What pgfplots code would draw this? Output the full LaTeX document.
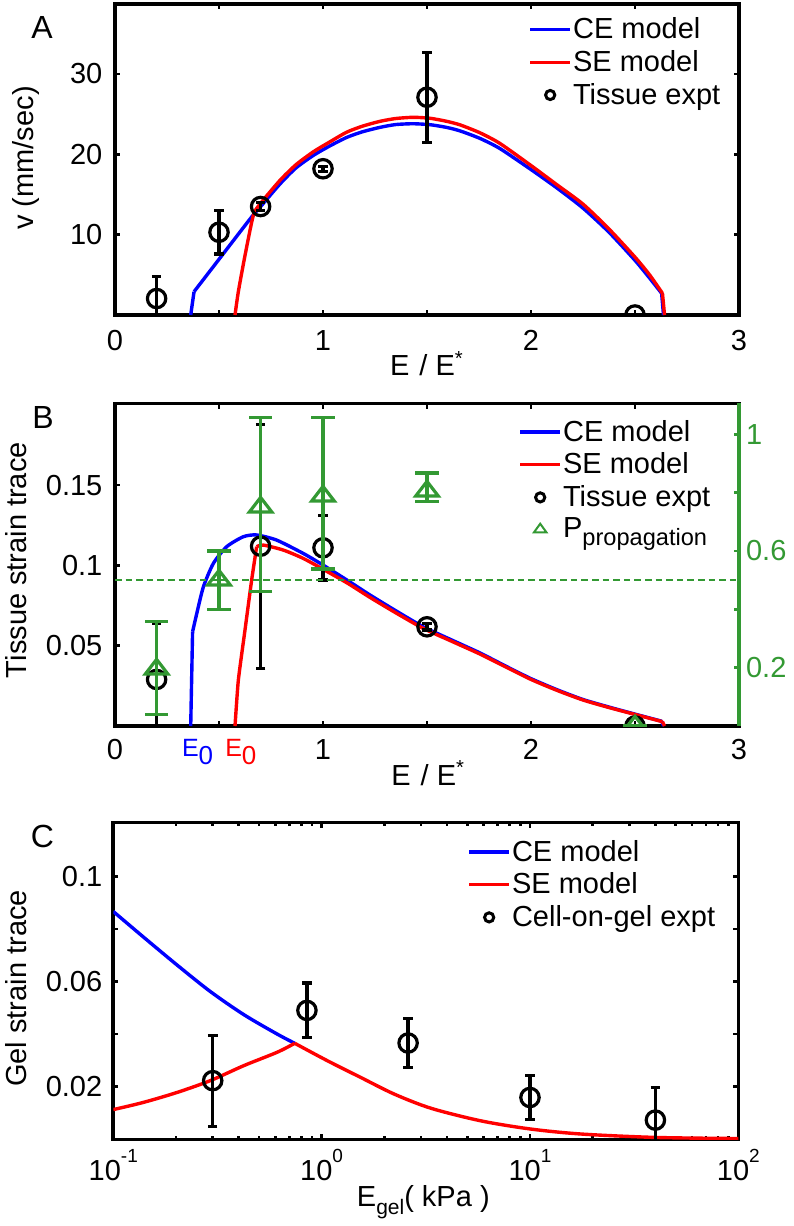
\documentclass[border=0pt]{standalone}
\usepackage{fontspec}
\setmainfont{Liberation Sans}
\usepackage{pgfplots}
\pgfplotsset{compat=1.18}
\definecolor{pgreen}{RGB}{51,153,51}
\newcommand{\myfont}{\fontsize{14.5}{17.4}\selectfont}
\newcommand{\tsup}[1]{\raisebox{9pt}{\fontsize{9.5}{10}\selectfont #1}}
\newcommand{\Ezero}{{\fontsize{12.5}{13}\selectfont E}{\fontsize{13}{13}\selectfont\raisebox{-4pt}{0}}}
\newcommand{\lv}{\vphantom{Tp}}
\pgfplotsset{
 base/.style={
  scale only axis, width=312pt,
  axis line style={line width=1.8pt, black},
  tick style={line width=1.3pt, black},
  major tick length=2.6pt, minor tick length=1.6pt,
  tick align=inside,
  /pgf/number format/assume math mode=true,
  tick label style={font=\myfont},
  label style={font=\myfont},
  clip marker paths=true,
  legend style={draw=none, fill=none, inner sep=0pt, font=\myfont, nodes={inner sep=0pt}, column sep=0.6pt, row sep=4.3pt, anchor=north west},
  legend cell align=left,
 },
 legline/.style={legend image code/.code={\draw[##1] (0pt,0pt) -- (20pt,0pt);}},
 legmark/.style={legend image code/.code={\draw[##1] plot coordinates {(10pt,0pt)};}},
 expt/.style={black, line width=1.6pt, only marks, mark=o, mark size=4.6pt,
   error bars/.cd, y dir=both, y explicit,
   error bar style={line width=1.6pt, black},
   error mark options={rotate=90, black, line width=1.6pt, mark size=2.4pt}},
}
\begin{document}
\begin{tikzpicture}
\useasboundingbox (0,0) rectangle (396.5pt,-613pt);
% ---------------- Panel A ----------------
\begin{axis}[base, at={(57.5pt,-157.5pt)}, anchor=south west, height=155.5pt,
 xmin=0, xmax=3, ymin=0, ymax=38.7,
 xtick={0,0.5,1,1.5,2,2.5,3}, xticklabels={0,,1,,2,,3},
 ytick={10,20,30}, yticklabels={10,20,30},
 xticklabel style={yshift=-4.3pt}, yticklabel style={xshift=-2.8pt},
 xlabel={E\hspace{5pt}/ E\textsuperscript{*}},
 xlabel style={at={(axis description cs:0.5,-0.195)}, anchor=base},
 ylabel={v (mm/sec)},
 ylabel style={at={(axis description cs:-0.1314,0.505)}, anchor=base},
 legend style={at={(0.662,0.957)}},
]
\addlegendimage{blue, line width=1.7pt, legline}
\addlegendentry{\lv CE model}
\addlegendimage{red, line width=1.7pt, legline}
\addlegendentry{\lv SE model}
\addlegendimage{black, line width=1.5pt, mark=o, mark size=2.3pt, legmark}
\addlegendentry{\lv Tissue expt}
\addplot[blue, line width=1.7pt] coordinates {(0.364,0) (0.380,2.9)};
\addplot[blue, line width=1.7pt, smooth, tension=0.4] coordinates {
(0.380,2.9) (0.505,7.1) (0.60,10.3) (0.657,12.2) (0.697,13.4) (0.793,16.3) (0.87,18.3) (0.953,19.85) (1.03,21.0) (1.114,22.1) (1.19,22.8) (1.274,23.35) (1.35,23.7) (1.434,23.8) (1.515,23.68) (1.595,23.34) (1.66,22.9) (1.755,21.97) (1.85,20.72) (2.0,18.1) (2.125,15.8) (2.25,13.3) (2.375,10.3) (2.5,6.8) (2.57,4.6) (2.628,2.7)};
\addplot[blue, line width=1.7pt] coordinates {(2.628,2.7) (2.637,0)};
\addplot[red, line width=1.7pt, smooth, tension=0.4] coordinates {
(0.577,0) (0.593,2.9) (0.625,7.4) (0.665,12.4) (0.697,13.8) (0.793,16.75) (0.87,18.7) (0.953,20.3) (1.03,21.5) (1.114,22.75) (1.19,23.5) (1.274,24.1) (1.35,24.45) (1.434,24.6) (1.515,24.48) (1.595,24.1) (1.66,23.65) (1.755,22.67) (1.85,21.36) (2.0,18.6) (2.125,16.2) (2.25,13.8) (2.375,10.7) (2.5,7.2) (2.57,5.0) (2.632,2.7)};
\addplot[red, line width=1.7pt] coordinates {(2.632,2.7) (2.642,0)};
\addplot[expt] table[x=x, y=y, y error=e] {
x y e
0.2 2.05 2.75
0.5 10.3 2.7
0.7 13.5 0.5
1.0 18.2 0.3
1.5 27.1 5.6
2.5 0 0
};
\end{axis}
\node[font=\fontsize{16}{18}\selectfont, inner sep=0pt] at (21pt,-13.5pt) {A};
% ---------------- Panel B (main) ----------------
\begin{axis}[base, at={(57.5pt,-363pt)}, anchor=south west, height=161.35pt,
 xmin=0, xmax=3, ymin=0, ymax=0.201,
 xtick={0,0.5,1,1.5,2,2.5,3}, xticklabels={0,,1,,2,,3},
 extra x ticks={0.397,0.605},
 extra x tick labels={\textcolor{blue}{\Ezero},\textcolor{red}{\Ezero}},
 extra x tick style={major tick length=0pt},
 ytick={0.05,0.1,0.15}, yticklabels={0.05,0.1,0.15}, ytick pos=left,
 xticklabel style={yshift=-3.2pt}, yticklabel style={xshift=-2.8pt},
 xlabel={E\hspace{5pt}/ E\textsuperscript{*}},
 xlabel style={at={(axis description cs:0.502,-0.183)}, anchor=base},
 ylabel={Tissue strain trace},
 ylabel style={at={(axis description cs:-0.1415,0.514)}, anchor=base},
]
\addplot[blue, line width=1.7pt] coordinates {(0.364,0) (0.373,0.0587)};
\addplot[blue, line width=1.7pt, smooth, tension=0.4] coordinates {
(0.373,0.0587) (0.393,0.070) (0.425,0.0867) (0.473,0.1013) (0.537,0.1117) (0.617,0.1179) (0.681,0.119) (0.777,0.1158) (0.905,0.1075) (1.001,0.1002) (1.12,0.0905) (1.226,0.0816) (1.35,0.0718) (1.482,0.0618) (1.62,0.0535) (1.755,0.0455) (1.88,0.0372) (2.0,0.0295) (2.125,0.0226) (2.25,0.0165) (2.375,0.0118) (2.5,0.0074) (2.628,0.0030)};
\addplot[blue, line width=1.7pt] coordinates {(2.628,0.0030) (2.637,0)};
\addplot[red, line width=1.7pt, smooth, tension=0.3] coordinates {
(0.577,0) (0.593,0.0286) (0.625,0.0598) (0.657,0.0909) (0.681,0.1117)};
\addplot[red, line width=1.7pt, smooth, tension=0.4] coordinates {
(0.681,0.1117) (0.713,0.1127) (0.809,0.1096) (0.905,0.1044) (1.001,0.0976) (1.12,0.0888) (1.226,0.0801) (1.35,0.0705) (1.482,0.0608) (1.62,0.0527) (1.755,0.0448) (1.88,0.0367) (2.0,0.029) (2.125,0.0222) (2.25,0.0162) (2.375,0.0115) (2.5,0.0072) (2.632,0.0027)};
\addplot[red, line width=1.7pt] coordinates {(2.632,0.0027) (2.642,0)};
\addplot[expt] table[x=x, y=y, y error=e] {
x y e
0.2 0.029 0.035
0.7 0.112 0.076
1.0 0.111 0.020
1.5 0.0618 0.002
2.5 0 0
};
\end{axis}
% ---------------- Panel B (right axis) ----------------
\begin{axis}[base, at={(57.5pt,-363pt)}, anchor=south west, height=161.35pt,
 xmin=0, xmax=3, ymin=0, ymax=1.106,
 axis x line=none, axis y line*=right,
 axis line style={-}, y axis line style={-, pgreen, line width=1.8pt},
 ytick={0.2,0.4,0.6,0.8,1}, yticklabels={0.2,,0.6,,1},
 yticklabel style={pgreen}, ytick style={pgreen, line width=1.3pt},
 legend style={at={(0.646,0.949)}},
]
\addlegendimage{blue, line width=1.7pt, legline}
\addlegendentry{\lv CE model}
\addlegendimage{red, line width=1.7pt, legline}
\addlegendentry{\lv SE model}
\addlegendimage{black, line width=1.5pt, mark=o, mark size=2.3pt, legmark}
\addlegendentry{\lv Tissue expt}
\addlegendimage{pgreen, line width=1pt, mark=triangle, mark size=3.6pt, mark options={yscale=0.8}, legmark}
\addlegendentry{\lv P\raisebox{-4pt}{\fontsize{11.8}{12}\selectfont propagation}}
\addplot[pgreen, line width=1pt, dash pattern=on 3.3pt off 2pt] coordinates {(0,0.5) (3,0.5)};
\addplot[pgreen, line width=1.6pt, only marks, mark=triangle, mark size=6.5pt,
  mark options={yscale=0.75, line width=1.6pt},
  error bars/.cd, y dir=both, y explicit,
  error bar style={line width=1.6pt, pgreen},
  error mark options={rotate=90, pgreen, line width=1.6pt, mark size=5.8pt}]
 table[x=x, y=y, y error plus=ep, y error minus=em] {
x y ep em
0.2 0.195 0.164 0.155
0.5 0.50 0.10 0.10
0.7 0.75 0.308 0.29
1.0 0.788 0.27 0.25
1.5 0.805 0.062 0.035
2.5 0 0 0
};
\end{axis}
\node[font=\fontsize{16}{18}\selectfont, inner sep=0pt] at (21.5pt,-208.5pt) {B};
% ---------------- Panel C ----------------
\begin{axis}[base, xmode=log, at={(56.65pt,-569.65pt)}, anchor=south west, width=312.5pt, height=158.5pt,
 xmin=0.1, xmax=100, ymin=0, ymax=0.1205,
 xtick={0.1,1,10,100}, xticklabels={10\tsup{-1},10\tsup{0},10\tsup{1},10\tsup{2}},
 ytick={0.02,0.04,0.06,0.08,0.1}, yticklabels={0.02,,0.06,,0.1},
 xticklabel style={yshift=-1.5pt}, yticklabel style={xshift=-2pt},
 xlabel={E\raisebox{-4pt}{\fontsize{10.5}{11}\selectfont gel}( kPa )},
 xlabel style={at={(axis description cs:0.496,-0.2126)}, anchor=base},
 ylabel={Gel strain trace},
 ylabel style={at={(axis description cs:-0.1386,0.476)}, anchor=base},
 legend style={at={(0.566,0.945)}},
]
\addlegendimage{blue, line width=1.7pt, legline}
\addlegendentry{\lv CE model}
\addlegendimage{red, line width=1.7pt, legline}
\addlegendentry{\lv SE model}
\addlegendimage{black, line width=1.5pt, mark=o, mark size=2.3pt, legmark}
\addlegendentry{\lv Cell-on-gel expt}
\addplot[blue, line width=1.7pt, smooth, tension=0.5] coordinates {
(0.1,0.0866) (0.139,0.0770) (0.202,0.0663) (0.292,0.0562) (0.423,0.0474) (0.612,0.0400) (0.743,0.0365)};
\addplot[red, line width=1.7pt, smooth, tension=0.5] coordinates {
(0.1,0.0113) (0.139,0.014) (0.202,0.0178) (0.292,0.0223) (0.423,0.028) (0.612,0.0331) (0.743,0.0365)};
\addplot[red, line width=1.7pt, smooth, tension=0.5] coordinates {
(0.743,0.0365) (1.064,0.0299) (1.542,0.0235) (2.23,0.0172) (3.35,0.0118) (5.83,0.0070) (10.1,0.0039) (17.7,0.002) (40.6,0.0007) (100,0.0003)};
\addplot[expt] table[x=x, y=y, y error=e] {
x y e
0.3 0.0223 0.0173
0.85 0.049 0.0104
2.6 0.0366 0.0092
10 0.0159 0.0083
40 0.0073 0.0124
};
\end{axis}
\node[font=\fontsize{16}{18}\selectfont, inner sep=0pt] at (21.25pt,-418pt) {C};
\end{tikzpicture}
\end{document}
